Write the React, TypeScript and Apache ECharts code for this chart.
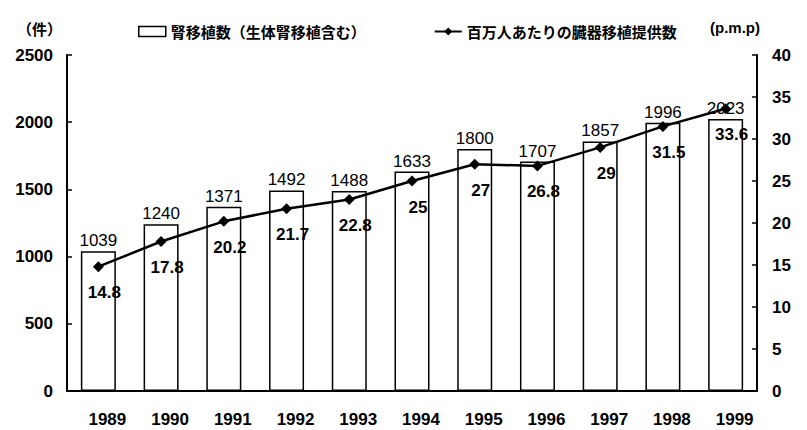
import React, { useEffect, useRef } from "react";
import * as echarts from "echarts";

const years = ["1989", "1990", "1991", "1992", "1993", "1994", "1995", "1996", "1997", "1998", "1999"];
const transplants = [1039, 1240, 1371, 1492, 1488, 1633, 1800, 1707, 1857, 1996, 2023];
const pmp = [14.8, 17.8, 20.2, 21.7, 22.8, 25, 27, 26.8, 29, 31.5, 33.6];
const leftTicks = { min: 0, max: 2500, interval: 500 };
const rightTicks = { min: 0, max: 40, interval: 5 };

const numFont = "'Liberation Sans', Arial, sans-serif";
const jpFont = "'Noto Sans CJK JP', sans-serif";

export default function App() {
  const ref = useRef<HTMLDivElement>(null);
  useEffect(() => {
    if (!ref.current) return;
    const chart = echarts.init(ref.current, null, { renderer: "svg" });
    chart.setOption({
      animation: false,
      backgroundColor: "#ffffff",
      grid: { left: 67, right: 50, top: 55, bottom: 39 },
      legend: {
        left: 133,
        top: 19,
        itemGap: 68,
        itemWidth: 27,
        itemHeight: 10,
        textStyle: { fontFamily: jpFont, fontWeight: "bold", fontSize: 15, color: "#000" },
        data: [
          { name: "腎移植数（生体腎移植含む）", icon: "rect", itemStyle: { color: "#fff", borderColor: "#000", borderWidth: 1.5 } },
          { name: "百万人あたりの臓器移植提供数" },
        ],
      },
      xAxis: {
        type: "category",
        data: years,
        boundaryGap: true,
        axisLine: { lineStyle: { color: "#000", width: 2 } },
        axisTick: { inside: false, length: 5, lineStyle: { color: "#000", width: 1.5 } },
        axisLabel: { color: "#000", fontFamily: numFont, fontWeight: "bold", fontSize: 17, margin: 20, padding: [0, 0, 0, 18] },
      },
      yAxis: [
        {
          type: "value",
          ...leftTicks,
          name: "（件）",
          nameLocation: "end",
          nameGap: 19,
          nameTextStyle: { color: "#000", fontFamily: jpFont, fontWeight: "bold", fontSize: 15, align: "right", padding: [0, 5, 0, 0] },
          axisLine: { show: true, lineStyle: { color: "#000", width: 2 } },
          axisTick: { show: true, inside: true, length: 5, lineStyle: { color: "#000", width: 1.5 } },
          axisLabel: {
            color: "#000", fontFamily: numFont, fontWeight: "bold", fontSize: 17, margin: 14, padding: [12, 0, 0, 0],
            formatter: (v: number) => String(v),
          },
          splitLine: { show: false },
        },
        {
          type: "value",
          ...rightTicks,
          name: "(p.m.p)",
          nameLocation: "end",
          nameGap: 20,
          nameTextStyle: { color: "#000", fontFamily: numFont, fontWeight: "bold", fontSize: 15, align: "right", padding: [0, -3, 0, 0] },
          axisLine: { show: true, lineStyle: { color: "#000", width: 2 } },
          axisTick: { show: true, inside: true, length: 5, lineStyle: { color: "#000", width: 1.5 } },
          axisLabel: { color: "#000", fontFamily: numFont, fontWeight: "bold", fontSize: 17, margin: 15, formatter: (v: number) => String(v) },
          splitLine: { show: false },
        },
      ],
      series: [
        {
          name: "腎移植数（生体腎移植含む）",
          type: "bar",
          yAxisIndex: 0,
          data: transplants,
          barWidth: 35,
          itemStyle: { color: "#fff", borderColor: "#000", borderWidth: 1.5 },
          label: { show: true, position: "top", distance: 2, color: "#000", fontFamily: numFont, fontSize: 17 },
        },
        {
          name: "百万人あたりの臓器移植提供数",
          type: "line",
          yAxisIndex: 1,
          data: pmp,
          symbol: "diamond",
          symbolSize: 11,
          lineStyle: { color: "#000", width: 2.5 },
          itemStyle: { color: "#000" },
          label: { show: true, position: "bottom", distance: 12, offset: [6, 0], color: "#000", fontFamily: numFont, fontWeight: "bold", fontSize: 17 },
          z: 5,
        },
      ],
    });
    return () => chart.dispose();
  }, []);
  return <div ref={ref} style={{ width: 807, height: 430, position: "absolute", left: 0, top: 0 }} />;
}
